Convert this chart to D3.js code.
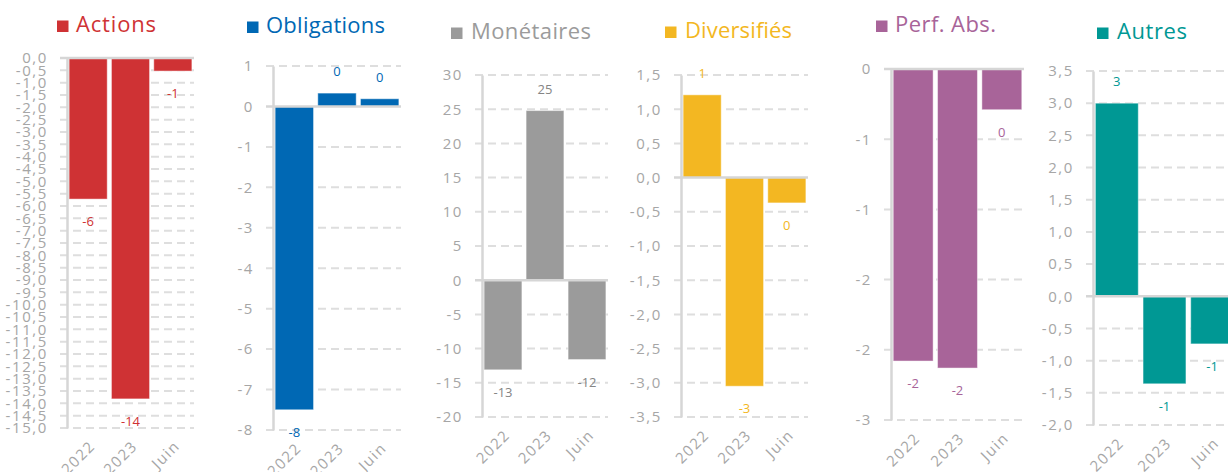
<!DOCTYPE html>
<html>
<head>
<meta charset="utf-8">
<script src="https://cdn.jsdelivr.net/npm/d3@7"></script>
<style>
  html, body { margin: 0; padding: 0; background: #ffffff; }
  svg { display: block; }
</style>
</head>
<body>
<svg id="chart" width="1228" height="472"></svg>
<script>
// Net flows by fund category: 2022, 2023 and June (year to date)
const categories = ["2022", "2023", "Juin"];
const seriesNames = ["Actions", "Obligations", "Monétaires", "Diversifiés", "Perf. Abs.", "Autres"];

const actions     = [-5.72, -13.82, -0.53];
const obligations = [-7.5, 0.33, 0.19];
const monetaires  = [-13.1, 24.8, -11.6];
const diversifies = [1.21, -3.05, -0.37];
const perfAbs     = [-2.08, -2.13, -0.29];
const autres      = [3.0, -1.36, -0.74];

// Value axis of each panel: bounds, major unit and decimals shown
const axisMin      = [-15, -8, -20, -3.5, -2.5, -2];
const axisMax      = [0, 1, 30, 1.5, 0, 3.5];
const axisStep     = [0.5, 1, 5, 0.5, 0.5, 0.5];
const axisDecimals = [1, 0, 0, 1, 0, 1];

const seriesValues = [actions, obligations, monetaires, diversifies, perfAbs, autres];

// Panel styling and geometry
const colors      = ["#cf3234", "#0068b4", "#9b9b9b", "#f3b722", "#a86499", "#009894"];
const titleColors = ["#cf3234", "#0068b4", "#9b9b9b", "#f3b722", "#a86499", "#009894"];
const labelColors = ["#cf3234", "#0068b4", "#858585", "#f3b722", "#a86499", "#009894"];
const layout = [
  { axisX: 67,   right: 194,  top: 58, bottom: 428, sqX: 57,  txtX: 76,   base: 32, titleW: 80 },
  { axisX: 273,  right: 401,  top: 66, bottom: 430, sqX: 247, txtX: 266,  base: 33, titleW: 119 },
  { axisX: 482,  right: 608,  top: 75, bottom: 417, sqX: 451, txtX: 471,  base: 39, titleW: 120 },
  { axisX: 681,  right: 808,  top: 75, bottom: 417, sqX: 665, txtX: 685,  base: 38, titleW: 107 },
  { axisX: 891,  right: 1024, top: 69, bottom: 420, sqX: 876, txtX: 895,  base: 32, titleW: 101 },
  { axisX: 1093, right: 1236, top: 71, bottom: 425, sqX: 1097, txtX: 1117, base: 39, titleW: 70 }
];

const FONT = "'Open Sans', 'DejaVu Sans', sans-serif";
const GRID = "#dedede";
const AXIS = "#d6d6d6";
const TICK_TEXT = "#a6a6a6";

const fr = d3.formatLocale({ decimal: ",", thousands: " ", grouping: [3], currency: ["", " €"], minus: "-" });

// Spreadsheet-style rounding: halves go away from zero, and no "-0"
function roundAway(v) {
  const r = Math.sign(v) * Math.round(Math.abs(v));
  return r === 0 ? 0 : r;
}

const svg = d3.select("#chart");

seriesValues.forEach((values, i) => {
  const L = layout[i];
  const g = svg.append("g");

  const y = d3.scaleLinear().domain([axisMin[i], axisMax[i]]).range([L.bottom, L.top]);
  const x = d3.scaleBand().domain(categories).range([L.axisX, L.right])
    .paddingInner(0.1).paddingOuter(0.05);

  const ticks = d3.range(axisMin[i], axisMax[i] + axisStep[i] / 2, axisStep[i])
    .map(t => +t.toFixed(4));
  const fmt = axisDecimals[i] > 0
    ? fr.format("." + axisDecimals[i] + "f")
    : (t => fr.format("d")(roundAway(t)));

  // dashed gridlines (the zero line is drawn solid later)
  g.append("g").selectAll("line")
    .data(ticks.filter(t => t !== 0))
    .join("line")
    .attr("x1", L.axisX - 7).attr("x2", L.right)
    .attr("y1", d => y(d)).attr("y2", d => y(d))
    .attr("stroke", GRID).attr("stroke-width", 2)
    .attr("stroke-dasharray", "8,5");

  // bars
  g.append("g").selectAll("rect")
    .data(values.map((v, k) => ({ v, c: categories[k] })))
    .join("rect")
    .attr("x", d => x(d.c))
    .attr("width", x.bandwidth())
    .attr("y", d => Math.min(y(d.v), y(0)))
    .attr("height", d => Math.abs(y(d.v) - y(0)))
    .attr("fill", colors[i])
    .attr("stroke", "#ffffff").attr("stroke-opacity", 0.45).attr("stroke-width", 1);

  // value axis
  const axis = d3.axisLeft(y).tickValues(ticks).tickFormat(fmt).tickSize(0).tickPadding(19);
  const ag = g.append("g").attr("transform", `translate(${L.axisX},0)`).call(axis);
  ag.select(".domain").attr("stroke", AXIS).attr("stroke-width", 2.5);
  ag.selectAll("text")
    .attr("fill", TICK_TEXT)
    .style("font-family", FONT).style("font-size", "15px").style("letter-spacing", "1.6px");

  // zero line
  g.append("line")
    .attr("x1", L.axisX - 7).attr("x2", L.right)
    .attr("y1", y(0)).attr("y2", y(0))
    .attr("stroke", AXIS).attr("stroke-width", 2.5);

  // data labels
  g.append("g").selectAll("text")
    .data(values.map((v, k) => ({ v, c: categories[k] })))
    .join("text")
    .attr("x", d => x(d.c) + x.bandwidth() / 2)
    .attr("y", d => d.v >= 0 ? y(d.v) - 22 : y(d.v) + 22)
    .attr("text-anchor", "middle")
    .attr("dominant-baseline", "central")
    .attr("fill", labelColors[i])
    .style("font-family", FONT).style("font-size", "13px")
    .text(d => String(roundAway(d.v)));

  // category labels, rotated
  g.append("g").selectAll("text")
    .data(categories)
    .join("text")
    .attr("transform", c => `translate(${x(c) + x.bandwidth() / 2 + 8},${L.bottom + 19}) rotate(-45)`)
    .attr("text-anchor", "end")
    .attr("fill", TICK_TEXT)
    .style("font-family", FONT).style("font-size", "15px").style("letter-spacing", "1.5px")
    .text(c => c);

  // title with legend key
  g.append("rect")
    .attr("x", L.sqX).attr("y", L.base - 11.5)
    .attr("width", 11.5).attr("height", 11.5)
    .attr("fill", colors[i]);
  g.append("text")
    .attr("x", L.txtX).attr("y", L.base)
    .attr("fill", titleColors[i])
    .attr("textLength", L.titleW).attr("lengthAdjust", "spacing")
    .style("font-family", FONT).style("font-size", "22px")
    .text(seriesNames[i]);
});
</script>
</body>
</html>
